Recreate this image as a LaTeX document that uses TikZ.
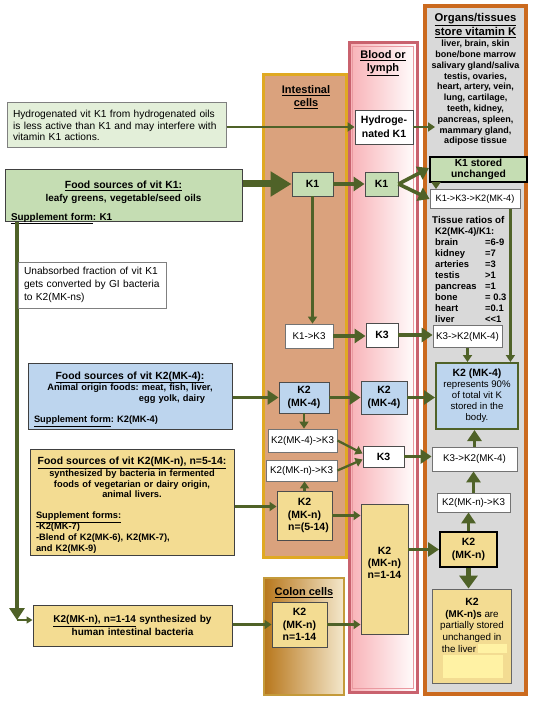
\documentclass[tikz,border=0pt]{standalone}
\usepackage{fontspec}
\setmainfont{Liberation Sans}
\usetikzlibrary{arrows.meta}

\definecolor{flowgreen}{HTML}{4F6228}
\definecolor{kgreen}{HTML}{C5DDB3}
\definecolor{hgreen}{HTML}{E3EFD9}
\definecolor{kblue}{HTML}{BDD5EE}
\definecolor{kyellow}{HTML}{F3DC92}
\definecolor{paleyellow}{HTML}{FFF2A4}
\definecolor{intfill}{HTML}{DAA27D}
\definecolor{intline}{HTML}{E0A922}
\definecolor{bloodline}{HTML}{C9626E}
\definecolor{bloodfill}{HTML}{F8B1B6}
\definecolor{organfill}{HTML}{D9D9D9}
\definecolor{organline}{HTML}{CB6A1E}
\definecolor{colonfill}{HTML}{B8771C}
\definecolor{colonlight}{HTML}{F4E8CC}
\definecolor{colonline}{HTML}{C49A3A}

\newcommand{\lowerby}[1]{\par\vspace{-#1}\hrule height0pt depth0pt width0pt}

\begin{document}
\frenchspacing
\begin{tikzpicture}[x=1pt,y=-1pt,
    kbox/.style={draw=black!70,line width=0.9pt,inner sep=1pt,align=center,
        font=\fontsize{10.5}{12.5}\selectfont\bfseries},
    plainbox/.style={draw=black!55,line width=0.8pt,fill=white,inner sep=1pt,align=center,
        font=\fontsize{9.8}{11}\selectfont},
    srcbox/.style={draw=black!75,line width=1pt,inner xsep=6pt,inner ysep=0pt,
        font=\fontsize{9.3}{10.8}\selectfont\bfseries},
    paneltitle/.style={align=center,font=\fontsize{11}{13}\selectfont\bfseries},
    aflow/.style={draw=flowgreen,line width=2.3pt,-{Triangle[length=7pt,width=9pt]}},
    bflow/.style={draw=flowgreen,line width=3.6pt,-{Triangle[length=11pt,width=14pt]}},
    cflow/.style={draw=flowgreen,line width=7pt,-{Triangle[length=21pt,width=24pt]}},
    vflow/.style={draw=flowgreen,line width=4.5pt,-{Triangle[length=12pt,width=15pt]}}]
\useasboundingbox (0,0) rectangle (533,703);
\fill[white] (0,0) rectangle (533,703);

% Panels
\draw[draw=organline,line width=3.5pt,fill=organfill] (425,6) rectangle (526,694);
\draw[draw=bloodline,line width=3pt,left color=bloodfill,right color=white] (349,43) rectangle (417,692);
\draw[bloodfill!70!bloodline,line width=1.2pt] (352.5,46.5) rectangle (413.5,688.5);
\draw[draw=intline,line width=3pt,fill=intfill] (263,75) rectangle (346,557);
\draw[draw=colonline,line width=2.5pt,left color=colonfill,right color=colonlight] (264,578) rectangle (344,695);

% Panel titles
\node[paneltitle] (inttitle) at (306,97) {\underline{Intestinal}\\\underline{cells}};
\node[paneltitle] (bloodtitle) at (383,63) {\underline{Blood or}\\\underline{lymph}};
\node[paneltitle] (colontitle) at (304,593) {\underline{Colon cells}};
\node[align=center,font=\fontsize{11.3}{13.5}\selectfont\bfseries] (organtitle) at (475.5,25.5)
    {\underline{Organs/tissues}\\\underline{store vitamin K}};
\node[align=center,anchor=north,inner sep=0pt,font=\fontsize{9}{10.8}\selectfont\bfseries] (organlist) at (475.5,40)
    {liver, brain, skin\\bone/bone marrow\\salivary gland/saliva\\testis, ovaries,\\heart, artery, vein,\\
     lung, cartilage,\\teeth, kidney,\\pancreas, spleen,\\mammary gland,\\adipose tissue};

% Food sources and notes
\node[srcbox,fill=hgreen,draw=black!50,font=\fontsize{10.2}{11.5}\selectfont,align=left,
    text width=207pt,minimum height=45pt] (hydro) at (116.5,125.5)
    {Hydrogenated vit K1 from hydrogenated oils\\is less active than K1 and may interfere with\\vitamin K1 actions.};
\node[srcbox,fill=kgreen,text width=225pt,minimum height=52pt,font=\fontsize{9.9}{13}\selectfont\bfseries] (k1food) at (123.5,195.5)
    {{\centering{\fontsize{10.4}{13}\selectfont\underline{Food sources of vit K1:}}\\leafy greens, vegetable/seed oils\par}\vspace{6pt}\underline{Supplement form}: K1\lowerby{14pt}};
\node[srcbox,fill=kblue,text width=192pt,minimum height=66pt] (mk4food) at (130,396)
    {{\centering{\fontsize{10.4}{10.8}\selectfont\underline{Food sources of vit K2(MK-4):}}\\Animal origin foods: meat, fish, liver,\\\hspace*{84pt}egg yolk, dairy\par}\vspace{10pt}\underline{Supplement form}: K2(MK-4)\lowerby{6pt}};
\node[srcbox,fill=kyellow,text width=192pt,minimum height=106pt] (mknfood) at (132,502)
    {{\centering{\fontsize{10.4}{10.8}\selectfont\underline{Food sources of vit K2(MK-n), n=5-14:}}\\synthesized by bacteria in fermented\\foods of vegetarian or dairy origin,\\animal livers.\par}\vspace{10pt}\underline{Supplement forms:}\\-K2(MK-7)\\-Blend of K2(MK-6), K2(MK-7),\\and K2(MK-9)\lowerby{6pt}};
\node[srcbox,fill=kyellow,text width=187pt,minimum height=41pt,align=center,font=\fontsize{10}{10.8}\selectfont\bfseries] (mk14food) at (132.5,625.5)
    {\underline{K2(MK-n), n=1-14} synthesized by\\human intestinal bacteria};

% Unabsorbed K1 path
\coordinate (vx) at (17,0);
\coordinate (vtop) at (vx |- k1food.south);
\coordinate (vbot) at (17,620);
\draw[vflow] (vtop) -- (vbot);
\draw[draw=flowgreen,line width=1.5pt,-{Triangle[length=6pt,width=7pt]}] (vbot) -- (vbot -| mk14food.west);
\node[srcbox,fill=white,draw=black!50,font=\fontsize{10.2}{13}\selectfont,align=left,
    text width=136pt,minimum height=46pt] (unabs) at (92,285)
    {Unabsorbed fraction of vit K1\\gets converted by GI bacteria\\to K2(MK-ns)};

% Intestinal cells
\node[kbox,fill=kgreen,minimum width=41pt,minimum height=24pt] (k1int) at (312.5,184) {K1};
\node[plainbox,minimum width=48pt,minimum height=24pt] (k1k3) at (309,336) {K1->K3};
\node[kbox,fill=kblue,minimum width=50pt,minimum height=31pt] (mk4int) at (304,397.5) {K2\\(MK-4)};
\node[plainbox,minimum width=69pt,minimum height=23pt] (mk4k3) at (302.5,440.5) {K2(MK-4)->K3};
\node[plainbox,minimum width=71pt,minimum height=21pt] (mknk3) at (301.5,470.5) {K2(MK-n)->K3};
\node[kbox,fill=kyellow,minimum width=55pt,minimum height=49pt] (mknint) at (304.5,515.5) {K2\\(MK-n)\\\hspace*{8pt}n=(5-14)};
\node[kbox,fill=kyellow,minimum width=55pt,minimum height=45pt] (colonk2) at (299.5,624.5) {K2\\(MK-n)\\n=1-14};

% Blood or lymph
\node[kbox,fill=white,minimum width=58pt,minimum height=34pt,font=\fontsize{10.5}{14}\selectfont\bfseries] (hk1) at (384,127) {Hydroge-\\nated K1};
\node[kbox,fill=kgreen,minimum width=33pt,minimum height=24pt] (k1blood) at (381.5,184) {K1};
\node[kbox,fill=white,minimum width=32pt,minimum height=24pt] (k3blood) at (382,335) {K3};
\node[kbox,fill=kblue,minimum width=46pt,minimum height=33pt] (mk4blood) at (384,397.5) {K2\\(MK-4)};
\node[kbox,fill=white,minimum width=41pt,minimum height=21pt] (k3blood2) at (383.5,456.5) {K3};
\node[kbox,fill=kyellow,minimum width=47pt,minimum height=130pt] (bloodtall) at (384.5,569) {};
\node[align=center,inner sep=0pt,font=\fontsize{10.5}{11.8}\selectfont\bfseries] (bloodtxt) at (384.5,563) {K2\\(MK-n)\\n=1-14};

% Organs and tissues
\node[kbox,fill=kgreen,draw=black,line width=2pt,font=\fontsize{10.3}{11}\selectfont\bfseries,
    minimum width=97pt,minimum height=25pt] (k1stored) at (478.5,169.5) {K1 stored\\unchanged};
\node[plainbox,minimum width=90pt,minimum height=19pt,font=\fontsize{9.2}{11}\selectfont] (k1k3k2) at (475,199) {K1->K3->K2(MK-4)};
\node[align=left,anchor=north west,inner sep=0pt,font=\fontsize{9.4}{11}\selectfont\bfseries] (ratios) at (432,216)
    {{\fontsize{9.8}{11}\selectfont Tissue ratios of}\\
     \hspace*{3pt}K2(MK-4)/K1:\\
     \hspace*{3pt}\makebox[50pt][l]{brain}=6-9\\
     \hspace*{3pt}\makebox[50pt][l]{kidney}=7\\
     \hspace*{3pt}\makebox[50pt][l]{arteries}=3\\
     \hspace*{3pt}\makebox[50pt][l]{testis}>1\\
     \hspace*{3pt}\makebox[50pt][l]{pancreas}=1\\
     \hspace*{3pt}\makebox[50pt][l]{bone}= 0.3\\
     \hspace*{3pt}\makebox[50pt][l]{heart}=0.1\\
     \hspace*{3pt}\makebox[50pt][l]{liver}<\kern0pt<1};
\node[plainbox,minimum width=69pt,minimum height=22pt] (k3k2a) at (467.5,336.5) {K3->K2(MK-4)};
\node[kbox,fill=kblue,draw=flowgreen,line width=2pt,font=\fontsize{9.6}{11}\selectfont,
    minimum width=82pt,minimum height=66pt] (mk4store) at (477,396)
    {{\bfseries\fontsize{10.5}{11}\selectfont K2 (MK-4)}\\represents 90\%\\of total vit K\\stored in the\\body.};
\node[plainbox,minimum width=85pt,minimum height=24pt] (k3k2b) at (474.5,459) {K3->K2(MK-4)};
\node[plainbox,minimum width=73pt,minimum height=19pt] (mknk3b) at (473.5,502.5) {K2(MK-n)->K3};
\node[kbox,fill=kyellow,draw=black,line width=2pt,minimum width=57pt,minimum height=35pt] (mknorg) at (468.5,549.5) {K2\\(MK-n)};
\node[draw=black!60,line width=0.9pt,fill=kyellow,minimum width=79pt,minimum height=94pt] (stored) at (471.5,636) {};
\fill[paleyellow] (443,655) rectangle (503,678);
\fill[paleyellow] (478,644) rectangle (507,653);
\node[align=center,anchor=north,inner sep=0pt,font=\fontsize{9.8}{11.7}\selectfont] (storedtxt) at (472,598)
    {{\bfseries\fontsize{10.5}{11.7}\selectfont K2}\\{\bfseries (MK-n)s} are\\partially stored\\unchanged in\\the liver\hspace*{26pt}};

% Connectors
\coordinate (hkend) at (435,127);
\draw[aflow] (hydro.east |- hk1) -- (hk1.west);
\draw[aflow] (hk1.east) -- (hkend);
\draw[cflow] (k1food.east |- k1int) -- (k1int.west);
\draw[bflow] (k1int.east) -- (k1blood.west);
\draw[bflow] (k1blood.east) -- ([yshift=1.5pt]k1stored.west);
\draw[bflow] (k1blood.east) -- (k1k3k2.west);
\draw[aflow] (k1int.south) -- (k1int.south |- k1k3.north);
\draw[aflow] ([xshift=7pt]k1stored.south west) -- ([xshift=7pt]k1stored.south west |- k1k3k2.north);
\coordinate (k1down) at ([xshift=-10pt]k1k3k2.south east);
\draw[aflow] (k1down) -- (k1down |- mk4store.north);
\draw[bflow] (k1k3.east) -- (k1k3.east -| k3blood.west);
\draw[bflow] (k3blood.east) -- (k3blood.east -| k3k2a.west);
\draw[aflow] (k3k2a.south) -- (k3k2a.south |- mk4store.north);
\draw[bflow] (mk4food.east |- mk4int) -- (mk4int.west);
\draw[bflow] (mk4int.east) -- (mk4blood.west);
\draw[bflow] (mk4blood.east) -- (mk4blood.east -| mk4store.west);
\draw[aflow] (mk4int.south) -- (mk4int.south |- mk4k3.north);
\draw[aflow] (mk4k3.east) -- ([yshift=3pt]k3blood2.west);
\draw[aflow] (mknk3.east) -- ([yshift=-3pt]k3blood2.west);
\draw[aflow] (mknint.north) -- (mknint.north |- mknk3.south);
\coordinate (mknin) at ([yshift=9pt]mknint.west);
\draw[aflow] (mknfood.east |- mknin) -- (mknin);
\draw[aflow] (mknint.east) -- (mknint.east -| bloodtall.west);
\draw[bflow] (k3blood2.east) -- (k3blood2.east -| k3k2b.west);
\draw[bflow] (k3k2b.north) -- (k3k2b.north |- mk4store.south);
\draw[bflow] (mknk3b.north) -- (mknk3b.north |- k3k2b.south);
\draw[bflow] (mknorg.north) -- (mknorg.north |- mknk3b.south);
\draw[bflow] (bloodtall.east |- mknorg) -- (mknorg.west);
\draw[draw=flowgreen,line width=5pt,-{Triangle[length=13pt,width=18pt]}] (mknorg.south) -- (mknorg.south |- stored.north);
\draw[aflow] (colonk2.east) -- (colonk2.east -| bloodtall.west);
\draw[aflow] (mk14food.east |- colonk2) -- (colonk2.west);
\end{tikzpicture}
\end{document}
